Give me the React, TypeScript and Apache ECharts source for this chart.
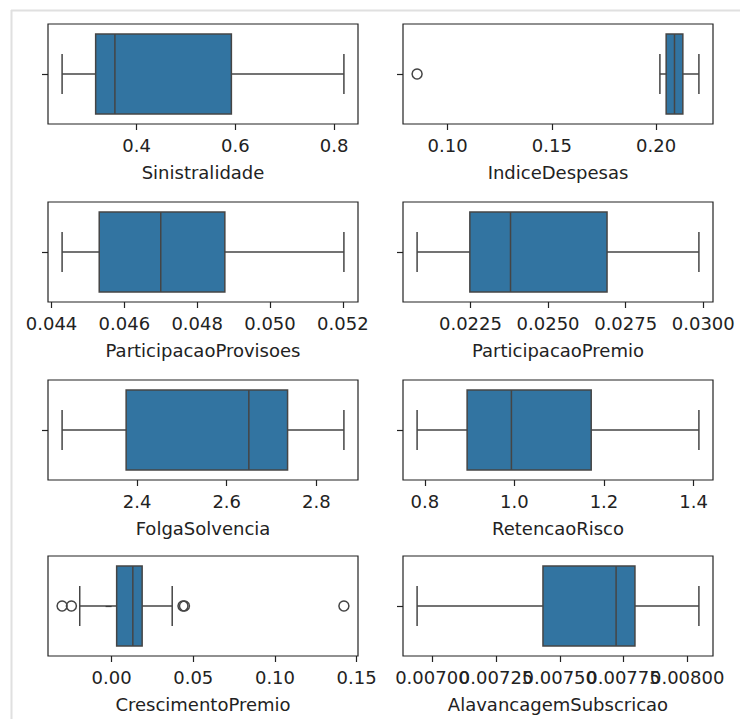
import React, { useEffect, useRef } from "react";
import * as echarts from "echarts";

const names = [
  "Sinistralidade",
  "IndiceDespesas",
  "ParticipacaoProvisoes",
  "ParticipacaoPremio",
  "FolgaSolvencia",
  "RetencaoRisco",
  "CrescimentoPremio",
  "AlavancagemSubscricao",
];

// [lower whisker, Q1, median, Q3, upper whisker]
const sinistralidade = [0.249, 0.317, 0.356, 0.592, 0.82];
const indiceDespesas = [0.2018, 0.2048, 0.2088, 0.2128, 0.2205];
const participacaoProvisoes = [0.04429, 0.04531, 0.047, 0.04876, 0.05203];
const participacaoPremio = [0.02078, 0.02248, 0.02379, 0.0269, 0.02986];
const folgaSolvencia = [2.2324, 2.3754, 2.6494, 2.7359, 2.8617];
const retencaoRisco = [0.7827, 0.8944, 0.9933, 1.1715, 1.412];
const crescimentoPremio = [-0.0195, 0.0031, 0.013, 0.0187, 0.0371];
const alavancagemSubscricao = [0.00694, 0.007434, 0.007721, 0.007795, 0.008046];

const stats = [
  sinistralidade,
  indiceDespesas,
  participacaoProvisoes,
  participacaoPremio,
  folgaSolvencia,
  retencaoRisco,
  crescimentoPremio,
  alavancagemSubscricao,
];

const outliers = [
  [],
  [0.0854],
  [],
  [],
  [],
  [],
  [-0.0303, -0.0246, 0.0437, 0.0446, 0.1422],
  [],
];

const tickValues = [
  [0.4, 0.6, 0.8],
  [0.1, 0.15, 0.2],
  [0.044, 0.046, 0.048, 0.05, 0.052],
  [0.0225, 0.025, 0.0275, 0.03],
  [2.4, 2.6, 2.8],
  [0.8, 1.0, 1.2, 1.4],
  [0.0, 0.05, 0.1, 0.15],
  [0.007, 0.00725, 0.0075, 0.00775, 0.008],
];
const tickDecimals = [1, 2, 3, 4, 1, 1, 2, 5];

const LINE = "#454545";
const FILL = "#3274a1";
const TEXT = "#222222";
const FONT = "DejaVu Sans";

export default function App() {
  const ref = useRef<HTMLDivElement>(null);
  useEffect(() => {
    if (!ref.current) return;
    const chart = echarts.init(ref.current, undefined, { renderer: "svg" });
    const lefts = [48, 403];
    const tops = [24, 202, 380, 556];
    const grids: any[] = [];
    const xAxes: any[] = [];
    const yAxes: any[] = [];
    const series: any[] = [];
    const labelBase = (i: number, values: number[]) => ({
      show: true,
      margin: 12,
      fontSize: 18,
      fontFamily: FONT,
      color: TEXT,
      customValues: values,
      hideOverlap: false,
      showMinLabel: true,
      showMaxLabel: true,
      formatter: (v: number) => v.toFixed(tickDecimals[i]),
    });
    names.forEach((nm, i) => {
      const col = i % 2;
      const row = Math.floor(i / 2);
      grids.push({
        left: lefts[col],
        top: tops[row],
        width: 310,
        height: 100,
        show: true,
        borderColor: TEXT,
        borderWidth: 1.2,
        backgroundColor: "transparent",
      });
      const all = stats[i].concat(outliers[i]);
      const dmin = Math.min(...all);
      const dmax = Math.max(...all);
      const span = dmax - dmin;
      const lo = dmin - 0.05 * span;
      const hi = dmax + 0.05 * span;
      const evenTicks = tickValues[i].filter((_, k) => k % 2 === 0);
      const oddTicks = tickValues[i].filter((_, k) => k % 2 === 1);
      const mainIdx = xAxes.length;
      xAxes.push({
        type: "value",
        gridIndex: i,
        position: "bottom",
        min: lo,
        max: hi,
        name: nm,
        nameLocation: "middle",
        nameGap: 39,
        nameTextStyle: { fontSize: 18, fontFamily: FONT, color: TEXT },
        axisLine: { show: false },
        splitLine: { show: false },
        axisTick: {
          show: true,
          length: 6,
          customValues: tickValues[i],
          lineStyle: { color: TEXT, width: 1.2 },
        },
        axisLabel: labelBase(i, evenTicks),
      });
      if (oddTicks.length) {
        xAxes.push({
          type: "value",
          gridIndex: i,
          position: "bottom",
          min: lo,
          max: hi,
          axisLine: { show: false },
          splitLine: { show: false },
          axisTick: { show: false },
          axisLabel: labelBase(i, oddTicks),
        });
      }
      yAxes.push({
        type: "category",
        gridIndex: i,
        data: [""],
        axisLine: { show: false },
        axisTick: {
          show: true,
          alignWithLabel: true,
          length: 6,
          lineStyle: { color: TEXT, width: 1.2 },
        },
        axisLabel: { show: false },
        splitLine: { show: false },
      });
      series.push({
        type: "custom",
        xAxisIndex: mainIdx,
        yAxisIndex: i,
        clip: false,
        dimensions: ["mn", "q1", "md", "q3", "mx", "cat"],
        encode: { x: [0, 1, 2, 3, 4], y: 5 },
        data: [[...stats[i], 0]],
        renderItem: (params: any, api: any) => {
          const mn = api.coord([api.value(0), 0]);
          const q1 = api.coord([api.value(1), 0]);
          const md = api.coord([api.value(2), 0]);
          const q3 = api.coord([api.value(3), 0]);
          const mx = api.coord([api.value(4), 0]);
          const y = md[1];
          const band = api.size([0, 1])[1];
          const bh = band * 0.8;
          const cap = bh * 0.5;
          const ls = { stroke: LINE, lineWidth: 1.5, fill: "none" };
          return {
            type: "group",
            children: [
              { type: "polyline", shape: { points: [[mn[0], y], [mx[0], y]] }, style: ls },
              { type: "polyline", shape: { points: [[mn[0], y - cap / 2], [mn[0], y + cap / 2]] }, style: ls },
              { type: "polyline", shape: { points: [[mx[0], y - cap / 2], [mx[0], y + cap / 2]] }, style: ls },
              {
                type: "rect",
                shape: { x: q1[0], y: y - bh / 2, width: q3[0] - q1[0], height: bh },
                style: { fill: FILL, stroke: LINE, lineWidth: 1.5 },
              },
              { type: "polyline", shape: { points: [[md[0], y - bh / 2], [md[0], y + bh / 2]] }, style: ls },
            ],
          };
        },
      });
      if (outliers[i].length) {
        series.push({
          type: "scatter",
          xAxisIndex: mainIdx,
          yAxisIndex: i,
          symbol: "circle",
          symbolSize: 10,
          itemStyle: { color: "rgba(0,0,0,0)", borderColor: LINE, borderWidth: 1.5, opacity: 1 },
          data: outliers[i].map((v) => [v, 0]),
        });
      }
    });
    chart.setOption({
      animation: false,
      backgroundColor: "#ffffff",
      grid: grids,
      xAxis: xAxes,
      yAxis: yAxes,
      series,
      graphic: [
        {
          type: "line",
          shape: { x1: 11, y1: 10.5, x2: 740, y2: 10.5 },
          style: { stroke: "#e0e0e0", lineWidth: 2 },
          silent: true,
        },
        {
          type: "line",
          shape: { x1: 11.5, y1: 10, x2: 11.5, y2: 719 },
          style: { stroke: "#e0e0e0", lineWidth: 2 },
          silent: true,
        },
      ],
    });
    return () => chart.dispose();
  }, []);
  return (
    <div
      ref={ref}
      style={{ position: "absolute", left: 0, top: 0, width: 740, height: 719 }}
    />
  );
}
